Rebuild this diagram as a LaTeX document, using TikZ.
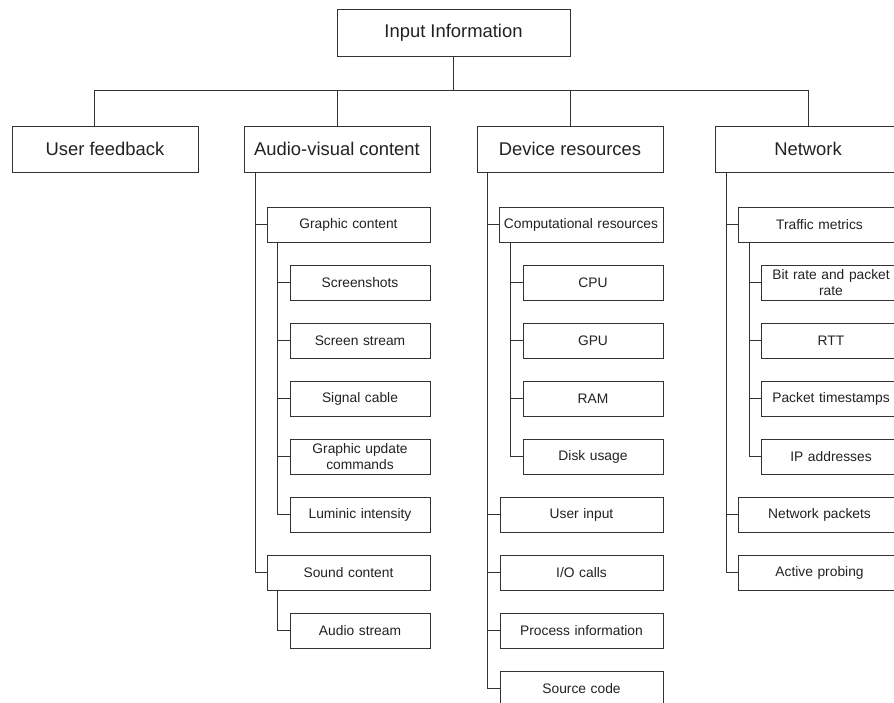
\documentclass[tikz,border=0pt]{standalone}
\usepackage{fontspec}
\setmainfont{Liberation Sans}
\usetikzlibrary{positioning}
\definecolor{lineCol}{HTML}{333333}
\definecolor{textCol}{HTML}{222222}
\newcommand{\bigfont}{\fontsize{18.4}{21}\selectfont}
\newcommand{\smallfont}{\fontsize{13.8}{15.8}\selectfont}
\tikzset{%
  % Specifications for style of nodes:
          base/.style = {rectangle, draw=lineCol, line width=0.9pt,
                         text=textCol, align=center, inner sep=0pt,
                         fill=white},
          head/.style = {base, minimum width=186pt, minimum height=46pt,
                         font=\bigfont},
       subitem/.style = {base, minimum width=163pt, minimum height=35pt,
                         text width=156pt, font=\smallfont},
      leafitem/.style = {subitem, minimum width=140pt, text width=132pt},
          link/.style = {draw=lineCol, line width=0.9pt},
}
\begin{document}
\begin{tikzpicture}[x=1pt, y=-1pt, node distance=58pt]
  \useasboundingbox (0,0) rectangle (894,703);

  % Top of the tree
  \node(input)     [head, minimum width=233pt, minimum height=47pt] at (453.5,32.5) {Input Information};
  \coordinate(bus) at (453.5,90.5);

  \node(userFb)    [head] at (105,149) {User feedback};
  \node(audioVis)  [head] at (337,149) {Audio-visual content};
  \node(device)    [head] at (570,149) {Device resources};
  \node(network)   [head] at (808,149) {Network};

  % Audio-visual content branch
  \node(graphic)     [subitem] at (348.5,224.5)             {Graphic content};
  \node(screenshots) [leafitem, below of=graphic, xshift=11.5pt] {Screenshots};
  \node(screenStr)   [leafitem, below of=screenshots]      {Screen stream};
  \node(signal)      [leafitem, below of=screenStr]        {Signal cable};
  \node(gfxUpdate)   [leafitem, below of=signal]           {Graphic update\\commands};
  \node(luminic)     [leafitem, below of=gfxUpdate]        {Luminic intensity};
  \node(sound)       [subitem, below of=luminic, xshift=-11.5pt] {Sound content};
  \node(audioStr)    [leafitem, below of=sound, xshift=11.5pt]   {Audio stream};

  % Device resources branch
  \node(comput)      [subitem, minimum width=164pt] at (581,224.5) {Computational resources};
  \node(cpu)         [leafitem, below of=comput, xshift=12pt] {CPU};
  \node(gpu)         [leafitem, below of=cpu]              {GPU};
  \node(ram)         [leafitem, below of=gpu]              {RAM};
  \node(disk)        [leafitem, below of=ram]              {Disk usage};
  \node(userIn)      [subitem, below of=disk, xshift=-11.5pt] {User input};
  \node(ioCalls)     [subitem, below of=userIn]            {I/O calls};
  \node(process)     [subitem, below of=ioCalls]           {Process information};
  \node(source)      [subitem, below of=process]           {Source code};

  % Network branch
  \node(traffic)     [subitem] at (819.5,224.5)            {Traffic metrics};
  \node(bitRate)     [leafitem, below of=traffic, xshift=11.5pt] {Bit rate and packet\\rate};
  \node(rtt)         [leafitem, below of=bitRate]          {RTT};
  \node(timestamps)  [leafitem, below of=rtt]              {Packet timestamps};
  \node(ipAddr)      [leafitem, below of=timestamps]       {IP addresses};
  \node(netPackets)  [subitem, below of=ipAddr, xshift=-11.5pt] {Network packets};
  \node(probing)     [subitem, below of=netPackets]        {Active probing};

  % Lines from the root to the four groups
  \draw[link] (input) -- (bus);
  \draw[link] (bus) -| ([xshift=-11pt]userFb.north);
  \draw[link] (bus) -| (audioVis);
  \draw[link] (bus) -| (device);
  \draw[link] (bus) -| (network);

  % Audio-visual content lines
  \foreach \child in {graphic, sound}
    \draw[link] ([xshift=12pt]audioVis.south west) |- (\child);
  \foreach \child in {screenshots, screenStr, signal, gfxUpdate, luminic}
    \draw[link] ([xshift=11pt]graphic.south west) |- (\child);
  \draw[link] ([xshift=11pt]sound.south west) |- (audioStr);

  % Device resources lines
  \foreach \child in {comput, userIn, ioCalls, process, source}
    \draw[link] ([xshift=11pt]device.south west) |- (\child);
  \foreach \child in {cpu, gpu, ram, disk}
    \draw[link] ([xshift=12pt]comput.south west) |- (\child);

  % Network lines
  \foreach \child in {traffic, netPackets, probing}
    \draw[link] ([xshift=12pt]network.south west) |- (\child);
  \foreach \child in {bitRate, rtt, timestamps, ipAddr}
    \draw[link] ([xshift=12pt]traffic.south west) |- (\child);

\end{tikzpicture}
\end{document}
